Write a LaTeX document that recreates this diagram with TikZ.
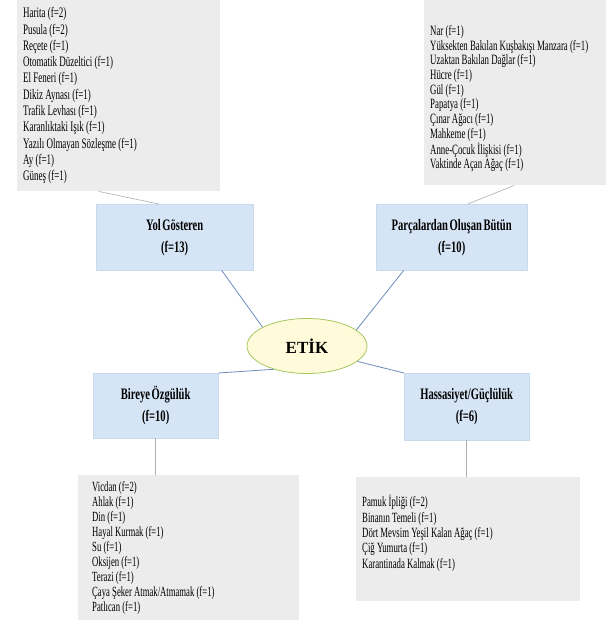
\documentclass[tikz,border=0pt]{standalone}
\usepackage{fontspec}
\setmainfont[FakeStretch=0.62,WordSpace=0.62,BoldFeatures={FakeStretch=0.66}]{Liberation Serif}
\newfontfamily\etikfont{Liberation Serif}
\usetikzlibrary{shapes.geometric,calc,positioning}
\definecolor{listgray}{RGB}{236,236,236}
\definecolor{themeblue}{RGB}{214,229,246}
\definecolor{themeedge}{RGB}{200,218,238}
\definecolor{etikfill}{RGB}{255,251,218}
\definecolor{etikedge}{RGB}{165,200,95}
\definecolor{spokeblue}{RGB}{110,140,190}
\definecolor{leafgray}{RGB}{175,175,175}
\tikzset{
  listbox/.style={fill=listgray, anchor=north west, align=left, inner ysep=0pt,
    execute at begin node={\spaceskip=0.155em plus 0.05em\xspaceskip=0.2em\relax}},
  themebox/.style={fill=themeblue, draw=themeedge, line width=0.4pt, anchor=north west, align=center,
    inner sep=0pt, font=\bfseries\fontsize{16}{22}\selectfont, execute at begin node={\rule{0pt}{27pt}}},
  etiknode/.style={ellipse, fill=etikfill, draw=etikedge, line width=0.8pt, inner sep=0pt,
    minimum width=120pt, minimum height=55pt, font=\etikfont\bfseries\fontsize{17}{20}\selectfont},
  spoke/.style={draw=spokeblue, line width=0.8pt},
  leaf/.style={draw=leafgray, line width=0.6pt}
}
\begin{document}
\begin{tikzpicture}[x=1pt,y=-1pt]
\fill[white] (0,0) rectangle (606,621);
\useasboundingbox (0,0) rectangle (606,621);

\node[listbox, inner xsep=6pt, text width=191pt, minimum height=191pt, font=\fontsize{14.5}{16.3}\selectfont] (yollist) at (17,0)
  {Harita (f=2)\\ Pusula (f=2)\\ Reçete (f=1)\\ Otomatik Düzeltici (f=1)\\ El Feneri (f=1)\\ Dikiz Aynası (f=1)\\
   Trafik Levhası (f=1)\\ Karanlıktaki Işık (f=1)\\ Yazılı Olmayan Sözleşme (f=1)\\ Ay (f=1)\\ Güneş (f=1)};
\node[listbox, inner xsep=6pt, text width=170pt, minimum height=185pt, font=\fontsize{14.2}{14.7}\selectfont] (parlist) at (424,0)
  {\rule{0pt}{22pt}Nar (f=1)\\ Yüksekten Bakılan Kuşbakışı Manzara (f=1)\\ Uzaktan Bakılan Dağlar (f=1)\\ Hücre (f=1)\\ Gül (f=1)\\
   Papatya (f=1)\\ Çınar Ağacı (f=1)\\ Mahkeme (f=1)\\ Anne-Çocuk İlişkisi (f=1)\\ Vaktinde Açan Ağaç (f=1)};
\node[listbox, inner xsep=14pt, text width=193pt, minimum height=145pt, font=\fontsize{14}{15}\selectfont] (birlist) at (78,475)
  {Vicdan (f=2)\\ Ahlak (f=1)\\ Din (f=1)\\ Hayal Kurmak (f=1)\\ Su (f=1)\\ Oksijen (f=1)\\ Terazi (f=1)\\
   Çaya Şeker Atmak/Atmamak (f=1)\\ Patlıcan (f=1)};
\node[listbox, inner xsep=6pt, text width=212pt, minimum height=124pt, font=\fontsize{14.1}{15.3}\selectfont] (haslist) at (356,477)
  {Pamuk İpliği (f=2)\\ Binanın Temeli (f=1)\\ Dört Mevsim Yeşil Kalan Ağaç (f=1)\\ Çiğ Yumurta (f=1)\\ Karantinada Kalmak (f=1)\rule[-15pt]{0pt}{15pt}};

\node[themebox, minimum width=157pt, minimum height=66pt] (yol) at (96,204) {Yol Gösteren\\ (f=13)};
\node[themebox, minimum width=151pt, minimum height=66pt] (par) at (376,204) {Parçalardan Oluşan Bütün\\ (f=10)};
\node[themebox, minimum width=125pt, minimum height=65pt] (bireye) at (93,373) {Bireye Özgülük\\ (f=10)};
\node[themebox, minimum width=125pt, minimum height=67pt] (hassas) at (404,373) {Hassasiyet/Güçlülük\\ (f=6)};

\node[etiknode] (etik) at (307,346) {ETİK};

\draw[leaf] ([xshift=-20pt]yollist.south) -- ([xshift=-16pt]yol.north);
\draw[leaf] ([xshift=-1pt]parlist.south) -- ([xshift=16pt]par.north);
\draw[spoke] ([xshift=47pt]yol.south) -- (etik.157);
\draw[spoke] ([xshift=-48pt]par.south) -- (etik.18);
\draw[spoke] (bireye.north east) -- (etik.215);
\draw[spoke] (hassas.north west) -- (etik.343);
\draw[leaf] (bireye.south) -- (bireye.south |- birlist.north);
\draw[leaf] (hassas.south) -- (hassas.south |- haslist.north);
\end{tikzpicture}
\end{document}
